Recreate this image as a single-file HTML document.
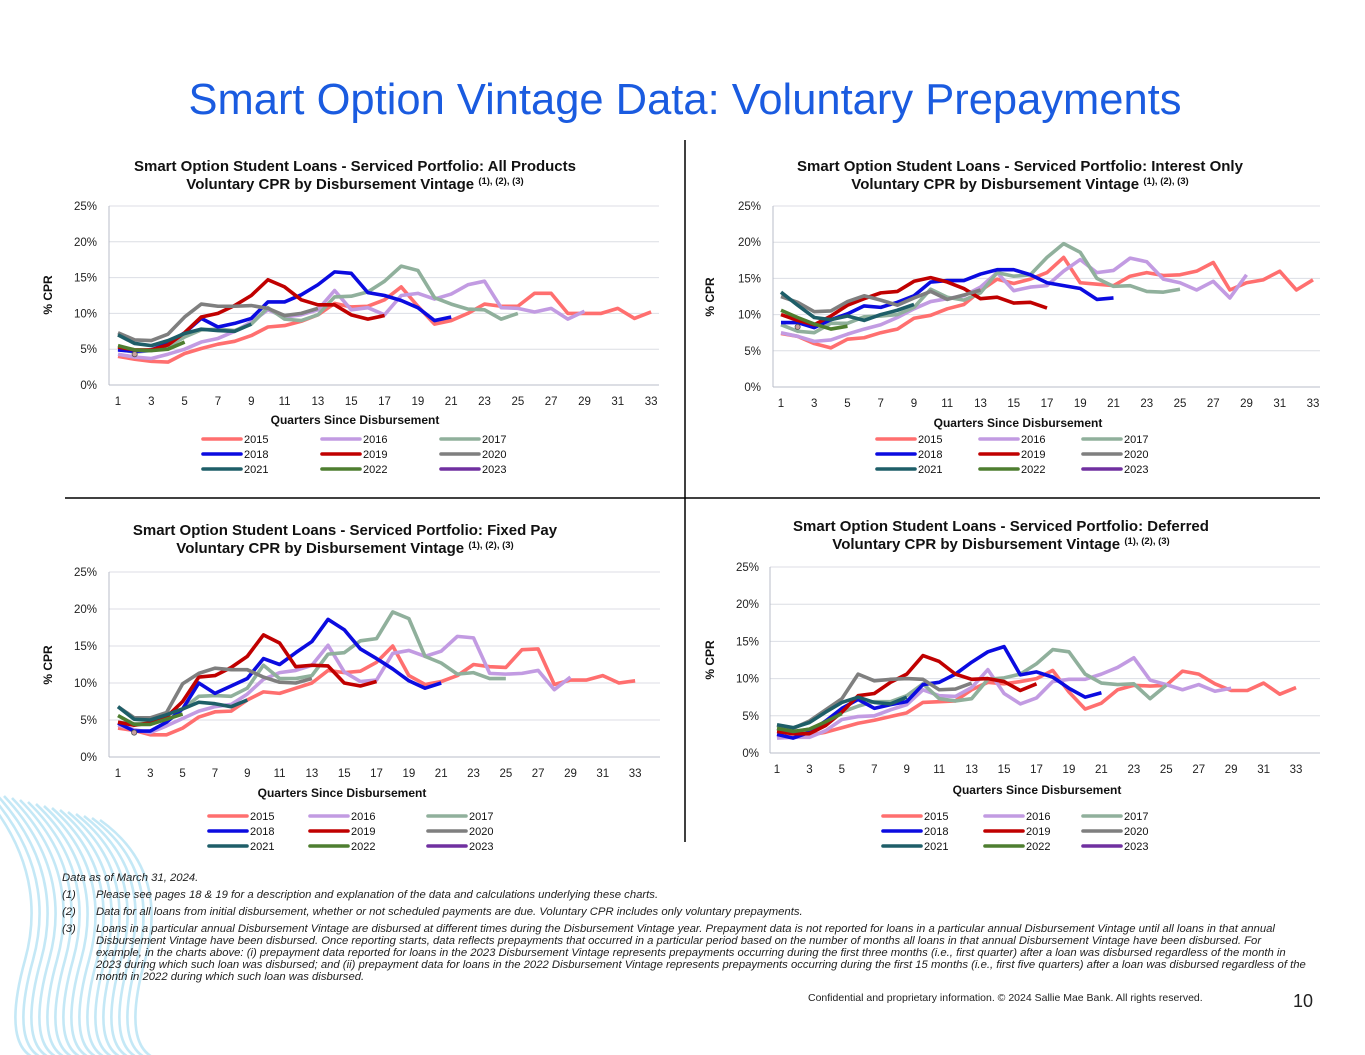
<!DOCTYPE html>
<html><head><meta charset="utf-8">
<style>
body{margin:0;width:1365px;height:1055px;overflow:hidden;background:#fff;font-family:"Liberation Sans",Arial,sans-serif;}
#root{position:relative;width:1365px;height:1055px;}
.fn{position:absolute;font-size:11.3px;font-style:italic;color:#222;line-height:12px;}
</style></head>
<body><div id="root">
<svg id="svg" width="1365" height="1055" style="position:absolute;left:0;top:0">
<g id="waves" fill="none" stroke="#c4e8f6" stroke-width="2.6"></g>
<text x="685" y="114" text-anchor="middle" font-size="43.5" fill="#1a5be0">Smart Option Vintage Data: Voluntary Prepayments</text>
<line x1="685" y1="140" x2="685" y2="842" stroke="#000" stroke-width="1.5"/>
<line x1="65" y1="498" x2="1320" y2="498" stroke="#000" stroke-width="1.5"/>
<text x="808" y="1001" font-size="10.5" fill="#222">Confidential and proprietary information. © 2024 Sallie Mae Bank. All rights reserved.</text>
<text x="1293" y="1007" font-size="18" fill="#222">10</text>
</svg>
<div class="fn" style="left:62px;top:872px">Data as of  March 31, 2024.</div>
<div class="fn" style="left:62px;top:889px">(1)</div>
<div class="fn" style="left:96px;top:889px">Please see pages 18 &amp; 19 for a description and explanation of the data and calculations underlying these charts.</div>
<div class="fn" style="left:62px;top:906px">(2)</div>
<div class="fn" style="left:96px;top:906px">Data for all loans from initial disbursement, whether or not scheduled payments are due. Voluntary CPR includes only voluntary prepayments.</div>
<div class="fn" style="left:62px;top:923px">(3)</div>
<div class="fn" style="left:96px;top:923px;width:1212px">Loans in a particular annual Disbursement Vintage are disbursed at different times during the Disbursement Vintage year.  Prepayment data is not reported for loans in a particular annual Disbursement Vintage until all loans in that annual Disbursement Vintage have been disbursed.  Once reporting starts, data reflects prepayments that occurred in a particular period based on the number of months all loans in that annual Disbursement Vintage have been disbursed.  For example, in the charts above:  (i) prepayment data reported for loans in the 2023 Disbursement Vintage represents prepayments occurring during the first three months (i.e., first quarter) after a loan was disbursed regardless of the month in 2023 during which such loan was disbursed; and (ii) prepayment data for loans in the 2022 Disbursement Vintage represents prepayments occurring during the first 15 months (i.e., first five quarters) after a loan was disbursed regardless of the month in 2022 during which such loan was disbursed.</div>
</div>
<script>
const vintages=["2015","2016","2017","2018","2019","2020","2021","2022","2023"];
const yTicks=[0,5,10,15,20,25];
const xTicks=[1,3,5,7,9,11,13,15,17,19,21,23,25,27,29,31,33];
const allProducts=[
[4.0,3.6,3.3,3.2,4.4,5.1,5.7,6.1,6.9,8.1,8.3,8.9,9.8,11.4,10.9,11.0,11.9,13.7,11.0,8.5,9.0,10.0,11.3,11.0,11.0,12.8,12.8,10.0,10.0,10.0,10.7,9.3,10.2],
[4.3,3.9,3.7,4.3,5.0,6.0,6.5,7.5,8.8,10.5,9.5,9.8,10.5,13.2,10.5,10.8,9.8,12.5,12.8,12.0,12.7,14.0,14.5,10.8,10.7,10.2,10.7,9.2,10.3],
[5.0,4.6,4.8,5.4,6.7,7.7,7.8,7.6,8.5,10.8,9.2,9.0,9.8,12.3,12.4,13.0,14.5,16.6,16.0,12.2,11.3,10.6,10.5,9.2,10.0],
[4.9,4.7,4.9,5.8,7.3,9.3,8.1,8.6,9.3,11.6,11.6,12.6,14.0,15.8,15.6,12.9,12.5,11.8,10.8,9.0,9.5],
[5.3,4.9,4.9,5.6,7.3,9.5,10.0,11.1,12.5,14.7,13.7,11.9,11.2,11.2,9.8,9.2,9.7],
[7.3,6.3,6.2,7.1,9.5,11.3,11.0,11.0,11.1,10.7,9.7,10.0,10.7],
[7.0,5.8,5.5,6.2,7.2,7.8,7.6,7.5,8.5],
[5.5,4.9,4.8,5.0,6.0],
[null,4.3]];
const interestOnly=[
[7.4,7.0,6.0,5.4,6.6,6.8,7.5,8.0,9.5,9.9,10.8,11.4,13.3,14.9,14.3,14.9,15.8,17.9,14.4,14.2,14.0,15.3,15.8,15.4,15.5,16.0,17.2,13.4,14.4,14.8,16.0,13.4,14.8],
[7.5,7.0,6.3,6.5,7.3,8.0,8.6,9.6,10.8,11.8,12.2,12.6,13.8,15.8,13.3,13.8,14.0,16.0,17.6,15.8,16.1,17.8,17.3,14.9,14.4,13.4,14.6,12.3,15.5],
[8.6,7.7,7.5,8.8,8.8,9.7,9.8,10.0,11.0,13.5,12.4,12.0,13.0,15.8,15.3,15.5,17.9,19.8,18.6,15.0,13.9,14.0,13.2,13.1,13.5],
[8.9,8.9,8.2,9.3,10.1,11.2,11.0,11.7,12.6,14.5,14.7,14.7,15.6,16.2,16.2,15.5,14.4,14.0,13.6,12.1,12.3],
[10.0,9.2,8.6,9.8,11.3,12.2,13.0,13.2,14.6,15.1,14.5,13.6,12.2,12.4,11.6,11.7,10.9],
[12.5,11.7,10.4,10.5,11.8,12.6,12.0,11.3,12.3,13.2,12.1,12.7,13.4],
[13.1,11.3,9.6,9.3,9.8,9.2,10.0,10.6,11.4],
[10.6,9.6,8.7,8.0,8.4],
[null,8.3]];
const fixedPay=[
[3.9,3.6,3.0,3.0,3.9,5.4,6.1,6.2,7.7,8.8,8.6,9.3,10.0,11.7,11.4,11.6,12.8,15.0,11.0,9.8,10.2,11.0,12.5,12.2,12.1,14.5,14.6,9.8,10.4,10.4,11.0,10.0,10.3],
[4.3,3.7,3.3,4.2,5.2,6.2,6.8,7.1,8.5,10.5,11.4,11.7,12.4,15.1,11.5,10.2,10.4,14.0,14.4,13.6,14.3,16.3,16.1,11.3,11.2,11.3,11.7,9.1,10.8],
[4.7,4.5,4.6,5.8,6.5,8.2,8.3,8.2,9.3,12.4,10.6,10.6,11.0,13.9,14.1,15.7,16.0,19.6,18.7,13.6,12.7,11.2,11.4,10.6,10.6],
[4.6,3.5,3.5,4.7,6.5,10.0,8.6,9.6,10.6,13.3,12.5,14.1,15.6,18.6,17.2,14.6,13.3,11.9,10.3,9.3,10.0],
[4.7,4.3,4.6,5.4,7.5,10.8,11.0,12.1,13.6,16.5,15.4,12.2,12.4,12.3,10.0,9.6,10.2],
[6.8,5.3,5.3,6.0,9.9,11.3,12.0,11.8,11.8,10.8,10.1,10.0,10.6],
[6.8,5.1,5.0,5.7,6.5,7.4,7.2,6.8,7.7],
[5.6,4.4,4.4,5.1,5.8],
[null,3.3]];
const deferred=[
[2.3,2.2,2.4,2.8,3.4,4.0,4.4,4.9,5.4,6.8,6.9,7.0,8.5,9.5,9.3,9.6,10.0,11.1,8.2,5.9,6.7,8.5,9.1,9.0,9.1,11.0,10.6,9.3,8.4,8.4,9.4,7.9,8.8],
[2.0,2.1,2.1,3.0,4.5,4.9,5.0,5.8,6.5,8.5,7.7,7.6,8.8,11.2,8.0,6.6,7.4,9.6,9.9,9.9,10.6,11.5,12.8,9.8,9.2,8.5,9.2,8.3,8.7],
[3.3,2.8,3.2,4.2,5.5,6.3,6.9,6.9,7.7,9.3,7.3,7.0,7.3,9.9,10.1,10.6,12.0,13.9,13.6,10.6,9.4,9.2,9.3,7.3,9.1],
[2.5,2.0,2.8,4.3,6.0,7.2,6.0,6.5,6.9,9.2,9.5,10.6,12.2,13.6,14.3,10.5,10.9,10.2,8.7,7.5,8.1],
[2.9,2.6,2.6,3.7,5.5,7.7,8.0,9.5,10.6,13.1,12.3,10.6,9.9,10.0,9.6,8.4,9.3],
[3.7,3.3,4.3,5.8,7.3,10.6,9.7,9.9,10.0,9.9,8.5,8.6,9.4],
[3.8,3.4,4.1,5.5,6.8,7.5,6.8,6.6,7.5],
[3.3,2.9,3.2,4.2,5.3],
[]];
const colors=["#ff6f6f","#c29be2","#90b09c","#0b0be0","#c00000","#7f7f7f","#1e5e68","#4e7e30","#7030a0"];
const svg=document.getElementById('svg');
const NS="http://www.w3.org/2000/svg";
function mk(tag,attrs,parent){const e=document.createElementNS(NS,tag);for(const k in attrs)e.setAttribute(k,attrs[k]);(parent||svg).appendChild(e);return e;}
function txt(s,attrs,parent){const e=mk('text',attrs,parent);e.textContent=s;return e;}
const waves=document.getElementById('waves');
for(let k=0;k<16;k++){
  const x0=-20+k*8;
  mk('path',{d:`M${x0},${790+k*2} Q${x0+70},${870} ${x0+45},${960} T${x0+60},1060`},waves);
}
const charts=[
{key:"all-products",data:allProducts,sub:"All Products",x0:109,x1:659,top:206,bot:385,q1:118,step:16.66,tc:355,t1:171,ylx:52,yly:295,tickR:97,xl:405,at:424,atx:355,lr:[439,454,469],lc:[203,322,441]},
{key:"interest-only",data:interestOnly,sub:"Interest Only",x0:773,x1:1320,top:206,bot:387,q1:781,step:16.625,tc:1020,t1:171,ylx:714,yly:297,tickR:761,xl:407,at:427,atx:1018,lr:[439,454,469],lc:[877,980,1083]},
{key:"fixed-pay",data:fixedPay,sub:"Fixed Pay",x0:109,x1:660,top:572,bot:757,q1:118,step:16.16,tc:345,t1:535,ylx:52,yly:665,tickR:97,xl:777,at:797,atx:342,lr:[816,831,846],lc:[209,310,428]},
{key:"deferred",data:deferred,sub:"Deferred",x0:770,x1:1320,top:567,bot:753,q1:777,step:16.22,tc:1001,t1:531,ylx:714,yly:660,tickR:759,xl:773,at:794,atx:1037,lr:[816,831,846],lc:[883,985,1083]}];
charts.forEach(c=>{
  const g=mk('g',{});
  
  
  const xs=q=>c.q1+(q-1)*c.step;
  const ys=v=>c.bot-(v/25)*(c.bot-c.top);
  const t1=txt("Smart Option Student Loans - Serviced Portfolio: "+c.sub,{x:c.tc,y:c.t1,'text-anchor':'middle','font-size':15,'font-weight':'bold',fill:'#111'},g);
  
  
  const t2=mk('text',{x:c.tc,y:c.t1+18,'text-anchor':'middle','font-size':15,'font-weight':'bold',fill:'#111'},g);
  
  
  t2.innerHTML='Voluntary CPR by Disbursement Vintage <tspan font-size="9.5" dy="-5">(1), (2), (3)</tspan>';
  yTicks.forEach(v=>{
    const l=mk('line',{x1:c.x0,x2:c.x1,y1:ys(v),y2:ys(v),stroke:v===0?'#b8bcc8':'#dcdee4','stroke-width':1},g);
    
    
    const t=txt(v+'%',{x:c.tickR,y:ys(v)+4,'text-anchor':'end','font-size':11.5,fill:'#222'},g);
    
    
  });
  const ax=mk('line',{x1:c.x0,x2:c.x0,y1:c.top,y2:c.bot,stroke:'#b8bcc8'},g);
  
  
  xTicks.forEach(q=>{
    const t=txt(String(q),{x:xs(q),y:c.xl,'text-anchor':'middle','font-size':11.5,fill:'#222'},g);
    
    
  });
  const yt=txt('% CPR',{x:c.ylx,y:c.yly,'text-anchor':'middle','font-size':12,'font-weight':'bold',fill:'#111',transform:`rotate(-90 ${c.ylx} ${c.yly})`},g);
  
  
  const xt=txt('Quarters Since Disbursement',{x:c.atx,y:c.at,'text-anchor':'middle','font-size':12,'font-weight':'bold',fill:'#111'},g);
  
  
  c.data.forEach((s,i)=>{
    const pts=[];
    s.forEach((v,j)=>{if(v!==null&&v!==undefined)pts.push([xs(j+1),ys(v)]);});
    if(pts.length>1){
      const p=mk('polyline',{points:pts.map(p=>p.join(',')).join(' '),fill:'none',stroke:colors[i],'stroke-width':3.6,'stroke-linejoin':'round'},g);
      
      
    } else if(pts.length===1){
      const p=mk('circle',{cx:pts[0][0],cy:pts[0][1],r:2.6,fill:'#c9a0a0',stroke:'#555','stroke-width':0.8},g);
      
      
    }
  });
  vintages.forEach((v,i)=>{
    const lx=c.lc[i%3],ly=c.lr[Math.floor(i/3)];
    const lg=mk('g',{},g);
    
    
    mk('line',{x1:lx,x2:lx+38,y1:ly,y2:ly,stroke:colors[i],'stroke-width':3.6,'stroke-linecap':'round'},lg);
    txt(v,{x:lx+41,y:ly+4,'font-size':11,fill:'#111'},lg);
  });
});
</script>
</body></html>
